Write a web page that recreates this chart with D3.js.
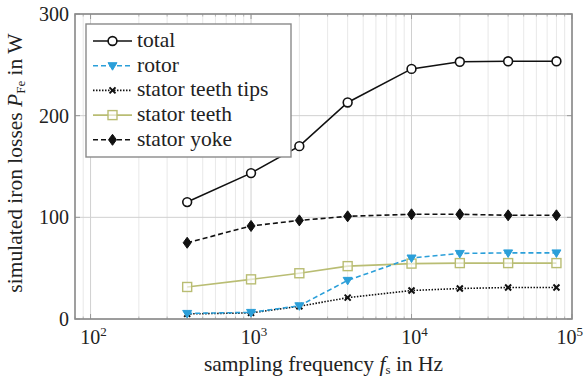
<!DOCTYPE html>
<html>
<head>
<meta charset="utf-8">
<script src="https://cdn.jsdelivr.net/npm/d3@7/dist/d3.min.js"></script>
<style>
  body { margin: 0; background: #fff; }
</style>
</head>
<body>
<svg id="chart" width="584" height="377"></svg>
<script>
// sampling frequencies in Hz
var freqs = [400, 1000, 2000, 4000, 10000, 20000, 40000, 80000];

// simulated iron losses in W
var total      = [115, 143.5, 170, 213, 246, 253, 253.5, 253.5];
var rotor      = [5.5, 6.5, 13, 38, 60, 64.5, 65, 65];
var teethTips  = [5, 6, 12.5, 21, 28, 30, 31, 31];
var teeth      = [31.5, 39, 45, 52, 54.5, 55, 55, 55];
var yoke       = [75, 91.5, 97, 101, 103, 103, 102, 102];

var yTicks = [0, 100, 200, 300];
var xTicks = [100, 1000, 10000, 100000];

var seriesList = [
  { name: "total", values: total, color: "#111", dash: null, marker: "circle" },
  { name: "rotor", values: rotor, color: "#2b9fd9", dash: "5,3", marker: "tri" },
  { name: "stator teeth tips", values: teethTips, color: "#111", dash: "1.5,1.5", marker: "cross" },
  { name: "stator teeth", values: teeth, color: "#b9bd73", dash: null, marker: "square" },
  { name: "stator yoke", values: yoke, color: "#111", dash: "5,3", marker: "diamond" }
];

var FONT = "'Liberation Serif', 'Times New Roman', serif";
var FS = 21.5;    // labels and legend
var TFS = 20;     // tick labels
var SFS = 13;     // superscripts / subscripts

var svg = d3.select("#chart");
var margin = { left: 75, top: 14, right: 12, bottom: 58 };
var W = 584, H = 377;
var x = d3.scaleLog().domain([80, 100000]).range([margin.left, W - margin.right]);
var y = d3.scaleLinear().domain([0, 300]).range([H - margin.bottom, margin.top]);

// minor log ticks
var minor = [];
[10, 100, 1000, 10000].forEach(function(dec) {
  for (var k = 2; k <= 9; k++) {
    var v = dec * k;
    if (v >= 80 && v <= 100000) minor.push(v);
  }
});

var grid = svg.append("g");
grid.selectAll(".minor").data(minor).enter().append("line")
  .attr("x1", function(d) { return x(d); }).attr("x2", function(d) { return x(d); })
  .attr("y1", y(0)).attr("y2", y(300))
  .attr("stroke", "#e2e2e2").attr("stroke-width", 0.8);
grid.selectAll(".major").data(xTicks).enter().append("line")
  .attr("x1", function(d) { return x(d); }).attr("x2", function(d) { return x(d); })
  .attr("y1", y(0)).attr("y2", y(300))
  .attr("stroke", "#d0d0d0").attr("stroke-width", 1);
grid.selectAll(".hgrid").data(yTicks).enter().append("line")
  .attr("x1", x(80)).attr("x2", x(100000))
  .attr("y1", function(d) { return y(d); }).attr("y2", function(d) { return y(d); })
  .attr("stroke", "#d0d0d0").attr("stroke-width", 1);

// tick marks (inside, all sides)
var ticks = svg.append("g").attr("stroke", "#999");
minor.forEach(function(v) {
  ticks.append("line").attr("x1", x(v)).attr("x2", x(v)).attr("y1", y(0)).attr("y2", y(0) - 2.5).attr("stroke-width", 0.7);
  ticks.append("line").attr("x1", x(v)).attr("x2", x(v)).attr("y1", y(300)).attr("y2", y(300) + 2.5).attr("stroke-width", 0.7);
});
xTicks.forEach(function(v) {
  ticks.append("line").attr("x1", x(v)).attr("x2", x(v)).attr("y1", y(0)).attr("y2", y(0) - 5);
  ticks.append("line").attr("x1", x(v)).attr("x2", x(v)).attr("y1", y(300)).attr("y2", y(300) + 5);
});
yTicks.forEach(function(v) {
  ticks.append("line").attr("x1", x(80)).attr("x2", x(80) + 5).attr("y1", y(v)).attr("y2", y(v));
  ticks.append("line").attr("x1", x(100000)).attr("x2", x(100000) - 5).attr("y1", y(v)).attr("y2", y(v));
});

// frame
svg.append("rect")
  .attr("x", x(80)).attr("y", y(300))
  .attr("width", x(100000) - x(80)).attr("height", y(0) - y(300))
  .attr("fill", "none").attr("stroke", "#8a8a8a").attr("stroke-width", 1.6);

// tick labels
svg.selectAll(".ylab").data(yTicks).enter().append("text")
  .attr("x", x(80) - 6).attr("y", function(d) { return y(d) + 7; })
  .attr("text-anchor", "end").attr("font-size", TFS).style("font-family", FONT).attr("fill", "#222")
  .text(function(d) { return d; });

xTicks.forEach(function(v, i) {
  var last = i === xTicks.length - 1;
  // keep the last label inside the picture
  var t = svg.append("text").attr("x", last ? W - 1 : x(v) + 3).attr("y", y(0) + 25)
    .attr("text-anchor", last ? "end" : "middle").attr("font-size", TFS)
    .style("font-family", FONT).attr("fill", "#222");
  t.append("tspan").text("10");
  t.append("tspan").attr("font-size", SFS).attr("dy", -8).text(Math.round(Math.log10(v)));
});

// axis labels
var xl = svg.append("text").attr("x", (x(80) + x(100000)) / 2).attr("y", 371)
  .attr("text-anchor", "middle").attr("font-size", FS).style("font-family", FONT).attr("fill", "#222");
xl.append("tspan").text("sampling frequency ");
xl.append("tspan").attr("font-style", "italic").text("f");
xl.append("tspan").attr("font-size", SFS).attr("dy", 3).text("s");
xl.append("tspan").attr("dy", -3).text(" in Hz");

var yl = svg.append("text")
  .attr("transform", "translate(22,163) rotate(-90)")
  .attr("text-anchor", "middle").attr("font-size", FS).style("font-family", FONT).attr("fill", "#222");
yl.append("tspan").text("simulated iron losses ");
yl.append("tspan").attr("font-style", "italic").text("P");
yl.append("tspan").attr("font-size", SFS).attr("dy", 3).text("Fe");
yl.append("tspan").attr("dy", -3).text(" in W");

// markers
function drawMarker(g, type, color, cx, cy) {
  if (type === "circle") {
    g.append("circle").attr("cx", cx).attr("cy", cy).attr("r", 4.4)
      .attr("fill", "#fff").attr("stroke", color).attr("stroke-width", 1.6);
  } else if (type === "tri") {
    g.append("path").attr("d", "M" + (cx - 4.5) + "," + (cy - 3) + "L" + (cx + 4.5) + "," + (cy - 3) + "L" + cx + "," + (cy + 4.5) + "Z")
      .attr("fill", color).attr("stroke", color).attr("stroke-width", 1);
  } else if (type === "cross") {
    g.append("path").attr("d", "M" + (cx - 3) + "," + (cy - 3) + "L" + (cx + 3) + "," + (cy + 3) + "M" + (cx - 3) + "," + (cy + 3) + "L" + (cx + 3) + "," + (cy - 3))
      .attr("stroke", color).attr("stroke-width", 2);
  } else if (type === "square") {
    g.append("rect").attr("x", cx - 4.5).attr("y", cy - 4.5).attr("width", 9).attr("height", 9)
      .attr("fill", "#fff").attr("fill-opacity", 0.6).attr("stroke", color).attr("stroke-width", 1.4);
  } else if (type === "diamond") {
    g.append("path").attr("d", "M" + cx + "," + (cy - 5.5) + "L" + (cx + 4) + "," + cy + "L" + cx + "," + (cy + 5.5) + "L" + (cx - 4) + "," + cy + "Z")
      .attr("fill", color).attr("stroke", color).attr("stroke-width", 1);
  }
}

var line = d3.line()
  .x(function(d) { return x(d[0]); })
  .y(function(d) { return y(d[1]); });

// draw in reverse so "total" ends up on top
seriesList.slice().reverse().forEach(function(s) {
  var pts = freqs.map(function(f, i) { return [f, s.values[i]]; });
  var g = svg.append("g");
  g.append("path").attr("d", line(pts))
    .attr("fill", "none").attr("stroke", s.color).attr("stroke-width", 1.6)
    .attr("stroke-dasharray", s.dash);
  pts.forEach(function(p) { drawMarker(g, s.marker, s.color, x(p[0]), y(p[1])); });
});

// legend
var lg = svg.append("g").attr("transform", "translate(86,24)");
lg.append("rect").attr("width", 205).attr("height", 133)
  .attr("fill", "#fff").attr("stroke", "#8a8a8a").attr("stroke-width", 1.4);
seriesList.forEach(function(s, i) {
  var cy = 17 + i * 24.7;
  var row = lg.append("g");
  row.append("line").attr("x1", 7).attr("x2", 46).attr("y1", cy).attr("y2", cy)
    .attr("stroke", s.color).attr("stroke-width", 1.6).attr("stroke-dasharray", s.dash);
  drawMarker(row, s.marker, s.color, 26.5, cy);
  row.append("text").attr("x", 51).attr("y", cy + 6).attr("font-size", FS)
    .style("font-family", FONT).attr("fill", "#222").text(s.name);
});
</script>
</body>
</html>
